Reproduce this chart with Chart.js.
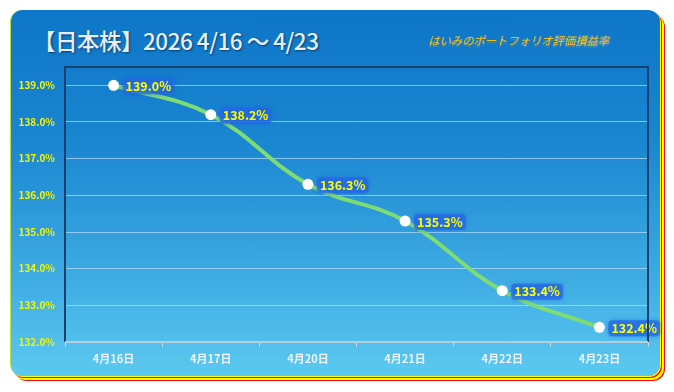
<!DOCTYPE html>
<html>
<head>
<meta charset="utf-8">
<script src="https://cdn.jsdelivr.net/npm/chart.js@4.4.1/dist/chart.umd.min.js"></script>
<style>
    html, body { margin: 0; padding: 0; background: #fff; }
    #wrap { position: relative; width: 674px; height: 392px; overflow: hidden; }
    #frame {
        position: absolute; left: 10px; top: 10px; width: 650px; height: 366px;
        border-radius: 12px;
        background: linear-gradient(to bottom, #0d76c8 0%, #1a85d0 35%, #40aee4 75%, #5cc9f0 100%);
        box-shadow: 1px 1px 0 #ffff00, 2px 2px 0 #ff0000, 4px 4px 0 #ffff00, 5px 5px 0 #ff0000;
        border-left: 1px solid #b8e04a;
        box-sizing: border-box;
    }
    #title {
        position: absolute; left: 33px; top: 24px;
        font-family: "Noto Sans CJK JP", sans-serif; font-weight: 500; font-size: 22.5px;
        color: #e9eef4; text-shadow: 1px 1px 2px #083c6c; letter-spacing: -0.5px;
    }
    #sub {
        position: absolute; left: 428px; top: 32px;
        font-family: "Noto Sans CJK JP", sans-serif; font-size: 11.5px; font-style: italic;
        color: #f2c21a; text-shadow: 0 2px 1px rgba(200,170,40,0.35); letter-spacing: -0.2px;
    }
    canvas { position: absolute; left: 0; top: 0; }
</style>
</head>
<body>
<div id="wrap">
    <div id="frame"></div>
    <div id="title">【日本株】2026 4/16 〜 4/23</div>
    <div id="sub">はいみのポートフォリオ評価損益率</div>
    <canvas id="chart" width="674" height="392"></canvas>
</div>
<script>
const labels = ['4月16日', '4月17日', '4月20日', '4月21日', '4月22日', '4月23日'];
const values = [139.0, 138.2, 136.3, 135.3, 133.4, 132.4];
const yTicks = [132, 133, 134, 135, 136, 137, 138, 139];

const FONT = '"Noto Sans CJK JP", sans-serif';

// 枠線（上・左・右は濃紺）
const plotFrame = {
    id: 'plotFrame',
    afterDraw(chart) {
        const { ctx, chartArea: a } = chart;
        ctx.save();
        ctx.strokeStyle = '#15426e';
        ctx.lineWidth = 2;
        ctx.beginPath();
        ctx.moveTo(a.left, a.bottom);
        ctx.lineTo(a.left, a.top);
        ctx.lineTo(a.right, a.top);
        ctx.lineTo(a.right, a.bottom);
        ctx.stroke();
        ctx.strokeStyle = '#b9cbd8';
        ctx.beginPath();
        ctx.moveTo(a.left, a.bottom);
        ctx.lineTo(a.right, a.bottom);
        ctx.stroke();
        ctx.restore();
    }
};

// 値ラベル
const valueLabels = {
    id: 'valueLabels',
    afterDatasetsDraw(chart) {
        const ctx = chart.ctx;
        const meta = chart.getDatasetMeta(0);
        ctx.save();
        ctx.font = 'bold 12.5px ' + FONT;
        ctx.textBaseline = 'middle';
        meta.data.forEach((pt, i) => {
            const text = values[i].toFixed(1) + '%';
            const x = pt.x + 12;
            const y = pt.y + 1;
            const w = ctx.measureText(text).width;
            ctx.shadowColor = 'rgba(30,90,230,0.8)';
            ctx.shadowBlur = 4;
            ctx.fillStyle = 'rgba(35,105,225,0.7)';
            ctx.beginPath();
            ctx.roundRect(x - 3, y - 8, w + 6, 16, 4);
            ctx.fill();
            ctx.shadowBlur = 0;
            ctx.fillStyle = '#ffff00';
            ctx.fillText(text, x, y);
        });
        ctx.restore();
    }
};

new Chart(document.getElementById('chart'), {
    type: 'line',
    data: {
        labels: labels,
        datasets: [{
            data: values,
            borderColor: '#7fdc72',
            borderWidth: 4,
            tension: 0.4,
            pointRadius: 5.5,
            pointBackgroundColor: '#ffffff',
            pointBorderWidth: 0,
            fill: false
        }]
    },
    options: {
        responsive: false,
        animation: false,
        layout: { padding: { top: 67, right: 26, left: 0, bottom: 0 } },
        plugins: { legend: { display: false }, tooltip: { enabled: false } },
        scales: {
            y: {
                min: 132,
                max: 139.5,
                afterBuildTicks: (scale) => {
                    scale.ticks = yTicks.map(v => ({ value: v }));
                },
                afterFit: (scale) => { scale.width = 65; },
                ticks: {
                    color: '#f4f400',
                    font: { family: FONT, size: 10, weight: 'bold' },
                    padding: 10,
                    callback: (v) => Number(v).toFixed(1) + '%'
                },
                grid: { color: 'rgba(200,230,255,0.65)', lineWidth: 1, drawTicks: false },
                border: { display: false }
            },
            x: {
                offset: true,
                afterFit: (scale) => { scale.height = 50; },
                ticks: {
                    color: '#eef4f9',
                    font: { family: FONT, size: 11, weight: 'bold' },
                    padding: 5
                },
                grid: {
                    offset: true,
                    drawOnChartArea: false,
                    drawTicks: true,
                    tickLength: 5,
                    color: '#c8d6e0',
                    lineWidth: 1
                },
                border: { display: false }
            }
        }
    },
    plugins: [plotFrame, valueLabels]
});
</script>
</body>
</html>
